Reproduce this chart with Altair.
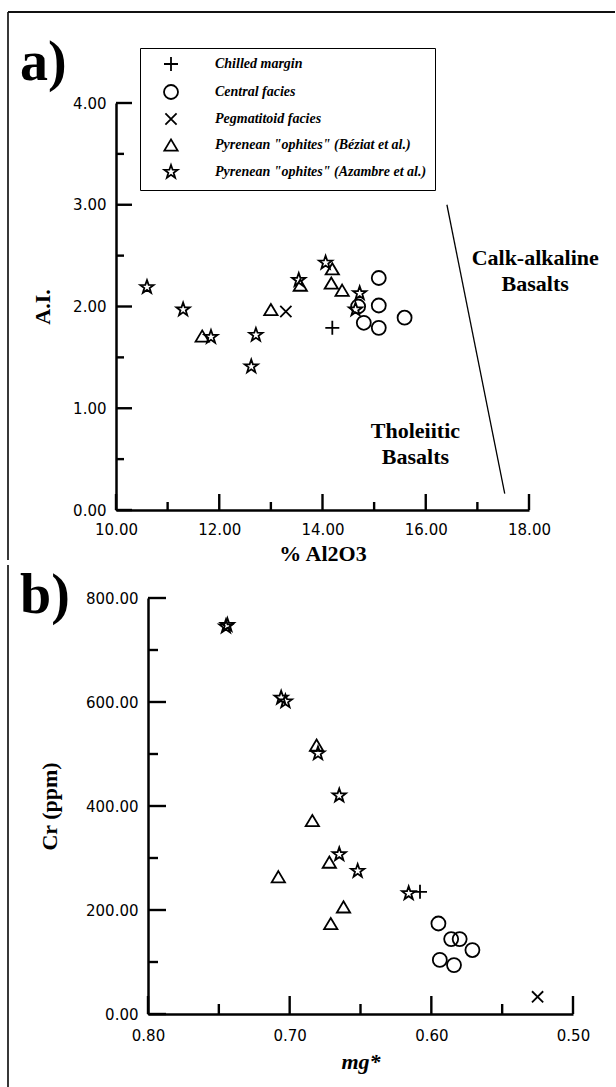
import altair as alt
import pandas as pd

# ---------------- categories / symbols ----------------
categories = ["Chilled margin", "Central facies", "Pegmatitoid facies",
              'Pyrenean "ophites" (Béziat et al.)',
              'Pyrenean "ophites" (Azambre et al.)']
PLUS = "M-1,0L1,0M0,-1L0,1"
XSHP = "M-0.8,-0.8L0.8,0.8M-0.8,0.8L0.8,-0.8"
TRI = "M0,-0.8L0.95,0.8L-0.95,0.8Z"
STAR = ("M0,-1L0.235,-0.324L0.951,-0.309L0.380,0.124L0.588,0.809L0,0.4"
        "L-0.588,0.809L-0.380,0.124L-0.951,-0.309L-0.235,-0.324Z")
shapes = [PLUS, "circle", XSHP, TRI, STAR]
UP_TICK = "M0,0L0,-2"      # vertical stroke rising from the axis
RIGHT_TICK = "M0,0L2,0"    # horizontal stroke going right from the axis

# ---------------- panel a : A.I. vs % Al2O3 ----------------
a_chilled_al = [14.19]
a_chilled_ai = [1.79]
a_central_al = [14.69, 14.80, 15.09, 15.09, 15.09, 15.59]
a_central_ai = [2.00, 1.84, 2.28, 2.01, 1.79, 1.89]
a_pegm_al = [13.29]
a_pegm_ai = [1.95]
a_beziat_al = [11.67, 13.00, 13.57, 14.19, 14.17, 14.38]
a_beziat_ai = [1.71, 1.97, 2.21, 2.37, 2.23, 2.16]
a_azambre_al = [10.60, 11.30, 11.84, 12.71, 12.62, 13.54, 14.06, 14.72, 14.64]
a_azambre_ai = [2.19, 1.97, 1.70, 1.72, 1.41, 2.26, 2.43, 2.13, 1.97]

a_x_major = [10, 12, 14, 16, 18]
a_x_minor = [11, 13, 15, 17]
a_y_major = [0, 1, 2, 3, 4]
a_y_minor = [0.5, 1.5, 2.5, 3.5]

a_line_al = [16.41, 17.53]
a_line_ai = [3.00, 0.16]

a_note_txt = [["Calk-alkaline", "Basalts"], ["Tholeiitic", "Basalts"]]
a_note_al = [18.12, 15.80]
a_note_ai = [2.48, 0.78]

# ---------------- panel b : Cr vs mg* ----------------
b_chilled_mg = [0.608]
b_chilled_cr = [235]
b_central_mg = [0.595, 0.586, 0.580, 0.571, 0.594, 0.584]
b_central_cr = [174, 144, 144, 123, 104, 94]
b_pegm_mg = [0.525]
b_pegm_cr = [33]
b_beziat_mg = [0.681, 0.684, 0.672, 0.708, 0.662, 0.671]
b_beziat_cr = [517, 372, 292, 264, 206, 174]
b_azambre_mg = [0.745, 0.744, 0.706, 0.703, 0.680, 0.665, 0.665, 0.652, 0.616]
b_azambre_cr = [745, 748, 608, 601, 501, 420, 307, 275, 232]

b_x_major = [0.80, 0.70, 0.60, 0.50]
b_x_minor = [0.75, 0.65, 0.55]
b_y_major = [0, 200, 400, 600, 800]
b_y_minor = [100, 300, 500, 700]

# ---------------- build tables ----------------
def table(groups, xname, yname):
    rows = []
    for cat, xs, ys in groups:
        for xv, yv in zip(xs, ys):
            rows.append({"cat": cat, xname: xv, yname: yv})
    return pd.DataFrame(rows)

df_a = table([
    (categories[0], a_chilled_al, a_chilled_ai),
    (categories[1], a_central_al, a_central_ai),
    (categories[2], a_pegm_al, a_pegm_ai),
    (categories[3], a_beziat_al, a_beziat_ai),
    (categories[4], a_azambre_al, a_azambre_ai),
], "al", "ai")

df_b = table([
    (categories[0], b_chilled_mg, b_chilled_cr),
    (categories[1], b_central_mg, b_central_cr),
    (categories[2], b_pegm_mg, b_pegm_cr),
    (categories[3], b_beziat_mg, b_beziat_cr),
    (categories[4], b_azambre_mg, b_azambre_cr),
], "mg", "cr")

SHIFT = 32
WA, HA = 381, 407
WB, HB = 425, 416
TICK_FONT = "DejaVu Sans"
SERIF = "Liberation Serif"
one = pd.DataFrame({"k": [0]})


def axis(values, title, lpad, tpad, italic=False, angle=None, offset=0):
    kw = dict(values=values, format=".2f", ticks=False, grid=False,
              domainWidth=2.5, domainColor="black", offset=offset,
              labelFont=TICK_FONT, labelFontSize=15, labelColor="black",
              labelPadding=lpad, labelFlush=False, labelOverlap=False,
              title=title, titleFont=SERIF, titleFontSize=22,
              titleFontWeight="bold", titleColor="black", titlePadding=tpad)
    if italic:
        kw["titleFontStyle"] = "italic"
    if angle is not None:
        kw["titleAngle"] = angle
    return alt.Axis(**kw)


legend = alt.Legend(
    title=None, orient="none", legendX=-8, legendY=-55,
    strokeColor="black", fillColor="white", padding=8,
    symbolOffset=15, labelOffset=36, rowPadding=6,
    symbolSize=196, symbolStrokeWidth=1.8, symbolStrokeColor="black",
    symbolFillColor="transparent",
    labelFont=SERIF, labelFontStyle="italic", labelFontWeight="bold",
    labelFontSize=14, labelColor="black", labelLimit=400)

shape_a = alt.Shape("cat:N", scale=alt.Scale(domain=categories, range=shapes),
                    legend=legend)
shape_b = alt.Shape("cat:N", scale=alt.Scale(domain=categories, range=shapes),
                    legend=None)


def ticks(vals, along, other, other_val, xenc, yenc, path, length):
    """Inward axis ticks drawn as stroked symbols anchored on the axis line."""
    df = pd.DataFrame({along: vals, other: [other_val] * len(vals)})
    return alt.Chart(df).mark_point(
        shape=path, filled=False, color="black", strokeWidth=2.4,
        opacity=1, size=length * length).encode(x=xenc, y=yenc)


# ---------------- panel a ----------------
xa = alt.X("al:Q", scale=alt.Scale(domain=[10, 18], nice=False, zero=False,
                                   range=[-SHIFT, WA]),
           axis=axis(a_x_major, "% Al2O3", 12, 6))
ya = alt.Y("ai:Q", scale=alt.Scale(domain=[0, 4], nice=False),
           axis=axis(a_y_major, "A.I.", 10, 18, angle=270, offset=SHIFT))

pts_a = alt.Chart(df_a).mark_point(
    filled=False, size=196, strokeWidth=1.8, color="black", opacity=1
).encode(x=xa, y=ya, shape=shape_a)

line_a = alt.Chart(pd.DataFrame({"al": a_line_al, "ai": a_line_ai})).mark_line(
    color="black", strokeWidth=1.3).encode(x=xa, y=ya)

notes_a = alt.Chart(pd.DataFrame({"al": a_note_al, "ai": a_note_ai,
                                  "txt": a_note_txt})).mark_text(
    font=SERIF, fontSize=22, fontWeight="bold", color="black",
    align="center", baseline="middle", lineHeight=26).encode(
    x=xa, y=ya, text="txt")

label_a = alt.Chart(one).mark_text(
    text="a)", font=SERIF, fontSize=56, fontWeight="bold", color="black",
    align="left", baseline="alphabetic").encode(
    x=alt.value(-128), y=alt.value(-23))

frame_a_left = alt.Chart(one).mark_rule(color="#222", strokeWidth=1.8).encode(
    x=alt.value(-140), y=alt.value(-91), y2=alt.value(457))
frame_a_top = alt.Chart(one).mark_rule(color="#111", strokeWidth=1.8).encode(
    x=alt.value(-140), x2=alt.value(467), y=alt.value(-91))

panel_a = alt.layer(
    frame_a_left, frame_a_top, label_a, line_a, notes_a,
    ticks(a_x_major, "al", "ai", 0, xa, ya, UP_TICK, 16),
    ticks(a_x_minor, "al", "ai", 0, xa, ya, UP_TICK, 8),
    ticks(a_y_major, "ai", "al", 10, xa, ya, RIGHT_TICK, 16),
    ticks(a_y_minor, "ai", "al", 10, xa, ya, RIGHT_TICK, 8),
    pts_a,
).properties(width=WA, height=HA)

# ---------------- panel b ----------------
xb = alt.X("mg:Q", scale=alt.Scale(domain=[0.5, 0.8], nice=False, zero=False,
                                   reverse=True),
           axis=axis(b_x_major, "mg*", 14, 8, italic=True))
yb = alt.Y("cr:Q", scale=alt.Scale(domain=[0, 800], nice=False),
           axis=axis(b_y_major, "Cr (ppm)", 10, 24, angle=270))

pts_b = alt.Chart(df_b).mark_point(
    filled=False, size=196, strokeWidth=1.8, color="black", opacity=1
).encode(x=xb, y=yb, shape=shape_b)

label_b = alt.Chart(one).mark_text(
    text="b)", font=SERIF, fontSize=56, fontWeight="bold", color="black",
    align="left", baseline="alphabetic").encode(
    x=alt.value(-128), y=alt.value(15))

frame_b_left = alt.Chart(one).mark_rule(color="#222", strokeWidth=1.8).encode(
    x=alt.value(-140), y=alt.value(-33), y2=alt.value(494))

panel_b = alt.layer(
    frame_b_left, label_b,
    ticks(b_x_major, "mg", "cr", 0, xb, yb, UP_TICK, 18),
    ticks(b_x_minor, "mg", "cr", 0, xb, yb, UP_TICK, 10),
    ticks(b_y_major, "cr", "mg", 0.8, xb, yb, RIGHT_TICK, 18),
    ticks(b_y_minor, "cr", "mg", 0.8, xb, yb, RIGHT_TICK, 10),
    pts_b,
).properties(width=WB, height=HB)

chart = alt.vconcat(panel_a, panel_b, spacing=0).resolve_scale(
    shape="independent").resolve_legend(shape="independent").properties(
    padding={"left": 7, "top": 11, "right": 0, "bottom": 0},
    background="white"
).configure_view(stroke=None)

chart.save("out.html", embed_options={"renderer": "svg", "actions": False})
